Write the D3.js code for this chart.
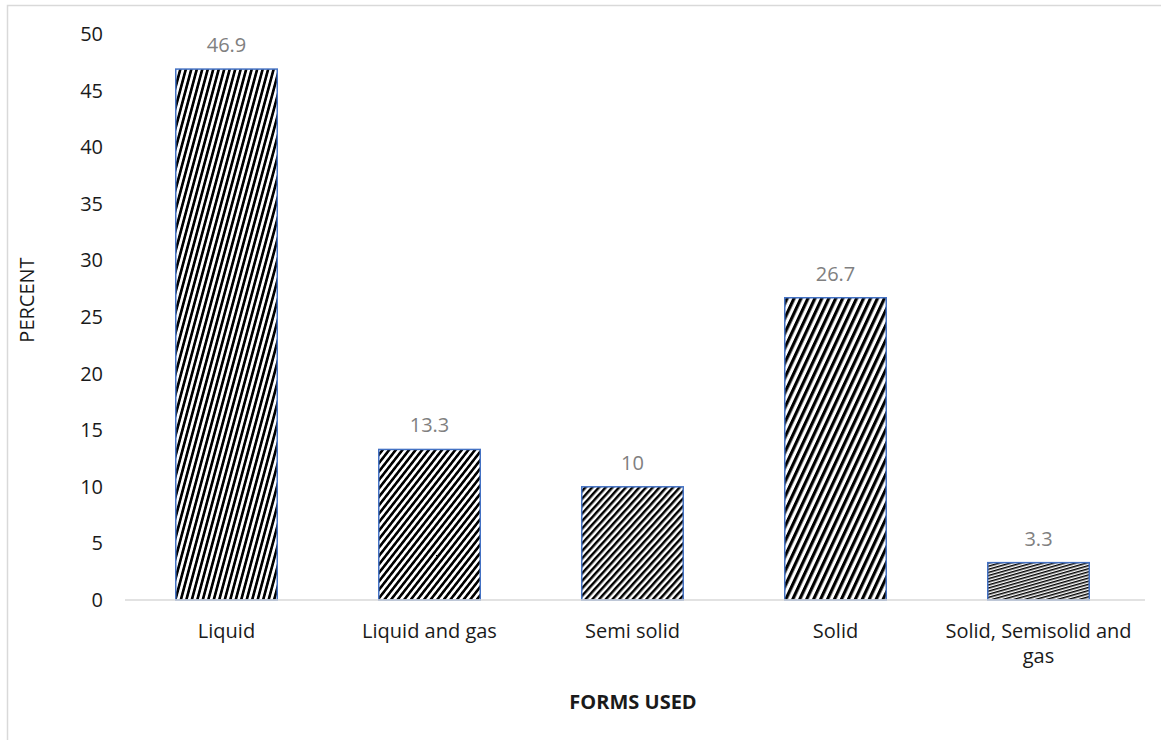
<!DOCTYPE html>
<html><head><meta charset="utf-8">
<script src="https://cdn.jsdelivr.net/npm/d3@7"></script>
<style>body{margin:0;background:#fff}svg{display:block}text{font-family:"Open Sans",sans-serif}</style>
</head><body>
<svg id="c" width="1161" height="740"></svg>
<script>
const categories = ["Liquid", "Liquid and gas", "Semi solid", "Solid", "Solid, Semisolid and gas"];
const values = [46.9, 13.3, 10, 26.7, 3.3];
const valueLabels = ["46.9", "13.3", "10", "26.7", "3.3"];
const yTicks = [0, 5, 10, 15, 20, 25, 30, 35, 40, 45, 50];
const hatchAngles = [15, 38, 42, 25, 74];   // rotation of stripes per bar
const hatchPeriods = [5.3, 5.2, 5.0, 6.3, 3.0];

const svg = d3.select("#c");
svg.append("rect").attr("x", 7.5).attr("y", 5.5).attr("width", 1200).attr("height", 800)
  .attr("fill", "none").attr("stroke", "#d9d9d9").attr("stroke-width", 1.5);

const x = d3.scaleBand().domain(categories).range([125, 1140]).paddingInner(0.5).paddingOuter(0.25);
const y = d3.scaleLinear().domain([0, 50]).range([600, 34]);

const defs = svg.append("defs");
categories.forEach((c, i) => {
  const p = hatchPeriods[i];
  const pat = defs.append("pattern").attr("id", "h" + i).attr("patternUnits", "userSpaceOnUse")
    .attr("width", p).attr("height", p).attr("patternTransform", `rotate(${hatchAngles[i]})`);
  pat.append("rect").attr("width", p).attr("height", p).attr("fill", "#fff");
  pat.append("rect").attr("width", p / 2).attr("height", p).attr("fill", "#000");
});

// y axis tick labels
const yAxis = d3.axisLeft(y).tickValues(yTicks).tickSize(0).tickPadding(0);
const ya = svg.append("g").attr("transform", "translate(103,0)").call(yAxis);
ya.select(".domain").remove();
ya.selectAll("text").attr("font-size", 20).attr("fill", "#1a1a1a").attr("font-family", '"Open Sans",sans-serif');

// bars
svg.selectAll("rect.bar").data(values).join("rect").attr("class", "bar")
  .attr("x", (d, i) => x(categories[i])).attr("width", x.bandwidth())
  .attr("y", d => y(d)).attr("height", d => y(0) - y(d))
  .attr("fill", (d, i) => `url(#h${i})`).attr("stroke", "#4472c4").attr("stroke-width", 1.5);

// baseline
svg.append("line").attr("x1", 125).attr("x2", 1145).attr("y1", y(0)).attr("y2", y(0))
  .attr("stroke", "#d9d9d9").attr("stroke-width", 1.5);

// value labels
svg.selectAll("text.val").data(values).join("text").attr("class", "val")
  .attr("x", (d, i) => x(categories[i]) + x.bandwidth() / 2).attr("y", d => y(d) - 17)
  .attr("text-anchor", "middle").attr("font-size", 20).attr("fill", "#808080")
  .text((d, i) => valueLabels[i]);

// category labels (x axis)
const xAxis = d3.axisBottom(x).tickSize(0).tickPadding(0);
const xa = svg.append("g").attr("transform", `translate(0,${y(0)})`).call(xAxis);
xa.select(".domain").remove();
xa.selectAll("text").attr("font-size", 20).attr("fill", "#1a1a1a").attr("font-family", '"Open Sans",sans-serif')
  .attr("dy", null).attr("y", 38)
  .each(function(d) {
    const t = d3.select(this);
    if (d === "Solid, Semisolid and gas") {
      t.text(null);
      t.append("tspan").attr("x", 0).attr("y", 38).text("Solid, Semisolid and");
      t.append("tspan").attr("x", 0).attr("y", 63).text("gas");
    }
  });

// axis titles
svg.append("text").attr("transform", "translate(34,300) rotate(-90)").attr("text-anchor", "middle")
  .attr("font-size", 20).attr("fill", "#1a1a1a").text("PERCENT");
svg.append("text").attr("x", 633).attr("y", 709).attr("text-anchor", "middle")
  .attr("font-size", 20).attr("font-weight", "bold").attr("fill", "#1a1a1a").text("FORMS USED");
</script>
</body></html>
